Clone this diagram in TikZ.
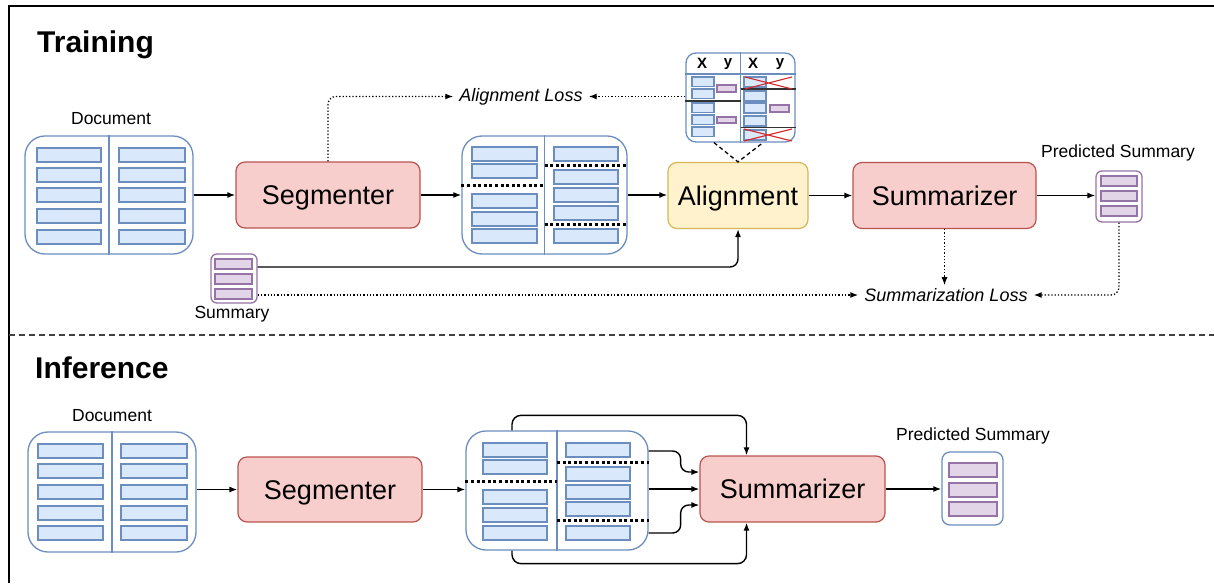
\documentclass[tikz,border=0pt]{standalone}
\usepackage{fontspec}
\setmainfont{Liberation Sans}
\usetikzlibrary{arrows.meta,calc}

\definecolor{redfill}{HTML}{F8CECC}
\definecolor{redline}{HTML}{B85450}
\definecolor{yelfill}{HTML}{FFF2CC}
\definecolor{yelline}{HTML}{D6B656}
\definecolor{bluefill}{HTML}{DAE8FC}
\definecolor{blueline}{HTML}{6C8EBF}
\definecolor{purfill}{HTML}{E1D5E7}
\definecolor{purline}{HTML}{9673A6}
\definecolor{crossred}{HTML}{D42A2A}

\tikzset{
  stage/.style={rounded corners=9pt, line width=1.2pt, inner sep=0pt,
    font=\fontsize{27}{32}\selectfont, minimum height=66pt,
    text height=19.3pt, text depth=0pt},
  redstage/.style={stage, fill=redfill, draw=redline},
  yelstage/.style={stage, fill=yelfill, draw=yelline},
  docbox/.style={draw=blueline, fill=white, line width=1.3pt, rounded corners=20pt, inner sep=0pt},
  sumbox/.style={fill=white, line width=1.3pt, rounded corners=6pt, inner sep=0pt},
  bbar/.style={fill=bluefill, draw=blueline, line width=1.3pt},
  pbar/.style={fill=purfill, draw=purline, line width=1.3pt},
  segline/.style={line width=3pt, dash pattern=on 3pt off 2.6pt},
  arr/.style={line width=1.4pt, -{Latex[length=8pt,width=6pt]}},
  darr/.style={line width=1.3pt, dash pattern=on 1.3pt off 2pt, -{Latex[length=8pt,width=6pt]}},
  lbl/.style={font=\fontsize{17.5}{20}\selectfont, inner sep=0pt},
  loss/.style={font=\fontsize{18}{21}\selectfont\itshape, inner sep=0pt},
  title/.style={font=\fontsize{30}{34}\selectfont\bfseries, inner sep=0pt, anchor=west},
  hdr/.style={font=\fontsize{15}{17}\selectfont\bfseries, inner sep=0pt},
}

\begin{document}
\begin{tikzpicture}[x=1pt, y=-1pt]
\useasboundingbox (0,0) rectangle (1214,583);

% frame and section separator
\draw[line width=2pt] (8.5,583) -- (8.5,6.5) -- (1214,6.5);
\draw[line width=1.5pt, black!75, dash pattern=on 6pt off 4pt] (8.5,335) -- (1214,335);

\node[title] (ttrain) at (37,45) {Training};
\node[title] (tinfer) at (35,368) {Inference};

% ================= Training =================
\node[lbl] (ldoc1) at (111,119) {Document};
\node[docbox, minimum width=168pt, minimum height=118pt] (doc1) at (109,195) {};
\draw[draw=blueline, line width=1.3pt] (doc1.north) -- (doc1.south);
\foreach \y in {148,168,188,209,230} {
  \draw[bbar] (37,\y) rectangle (101,\y+14);
  \draw[bbar] (119,\y) rectangle (185,\y+14);
}

\node[redstage, minimum width=184pt] (seg1) at (328,195) {Segmenter};

\node[docbox, minimum width=165pt, minimum height=118pt] (sd1) at (544.5,195) {};
\draw[draw=blueline, line width=1.3pt] (sd1.north) -- (sd1.south);
\foreach \y in {147,164,194,212,229} \draw[bbar] (472,\y) rectangle (537,\y+14);
\foreach \y in {147,170,188,206,229} \draw[bbar] (554,\y) rectangle (618,\y+14);
\draw[segline] (sd1.west |- 0,185) -- (sd1.center |- 0,185);
\draw[segline] (sd1.center |- 0,165) -- (sd1.east |- 0,165);
\draw[segline] (sd1.center |- 0,224) -- (sd1.east |- 0,224);

\node[yelstage, minimum width=140pt] (al) at (738,195.5) {Alignment};
\node[redstage, minimum width=183pt] (sum1) at (944.5,195.5) {Summarizer};

\node[lbl] (lps1) at (1118,153) {Predicted Summary};
\node[sumbox, draw=purline, minimum width=46pt, minimum height=51pt] (ps1) at (1119,196.5) {};
\foreach \y in {176,191,206} \draw[pbar] (1101,\y) rectangle (1137,\y+10);

\node[sumbox, draw=purline, minimum width=46pt, minimum height=49pt] (sm) at (234,278.5) {};
\foreach \y in {259,274,289} \draw[pbar] (215,\y) rectangle (252,\y+10);
\node[lbl] (lsm) at (232,314) {Summary};

% alignment table
\node[draw=blueline, fill=white, line width=1.3pt, rounded corners=10pt,
      minimum width=109pt, minimum height=89pt, inner sep=0pt] (tab) at (740.5,97.5) {};
\draw[draw=blueline, line width=1.3pt] (tab.north) -- (tab.south);
\draw[draw=blueline, line width=1.3pt] (tab.west |- 0,74) -- (tab.east |- 0,74);
\node[hdr] (hx1) at (702,63) {X};
\node[hdr] (hy1) at (728,64) {y};
\node[hdr] (hx2) at (753,63) {X};
\node[hdr] (hy2) at (780,64) {y};
\foreach \y in {77,89,103,115,127} \draw[bbar] (692,\y) rectangle (714,\y+9.5);
\draw[pbar] (717,85) rectangle (736,92);
\draw[pbar] (717,117) rectangle (736,123);
\draw[line width=1.4pt, black!80] (tab.west |- 0,101) -- (tab.center |- 0,101);
\foreach \y in {77,91,103,116,130} \draw[bbar] (744,\y) rectangle (766,\y+10);
\draw[pbar] (770,105) rectangle (789,112);
\draw[line width=1.4pt, black!80] (tab.center |- 0,89) -- (tab.east |- 0,89);
\draw[line width=1.4pt, black!80] (tab.center |- 0,127.5) -- (tab.east |- 0,127.5);
\draw[crossred, line width=1.1pt] (745,77) -- (792,89) (745,89) -- (792,77);
\draw[crossred, line width=1.1pt] (744,129) -- (792,141) (744,141) -- (792,129);

% losses
\node[loss] (alloss) at (521,96.5) {Alignment Loss};
\node[loss] (sl) at (946,295) {Summarization Loss};

% training connectors
\draw[arr] (doc1.east) -- (seg1.west);
\draw[arr] (seg1.east) -- (sd1.west);
\draw[arr] (sd1.east) -- (al.west |- sd1.east);
\draw[arr] (al.east) -- (sum1.west);
\draw[arr] (sum1.east) -- (ps1.west |- sum1.east);
\draw[arr, rounded corners=8pt] ([yshift=11.5pt]sm.east) -| (al.south);
\draw[darr] (sm.east |- sl.west) -- ([xshift=-6pt]sl.west);
\draw[darr] (sum1.south) -- ([yshift=3pt]sum1.south |- sl.north);
\draw[darr, rounded corners=8pt] (ps1.south) |- ([xshift=6pt]sl.east);
\draw[darr, rounded corners=8pt] (seg1.north) |- ([xshift=-6pt]alloss.west);
\draw[darr] (tab.west |- alloss.east) -- ([xshift=6pt]alloss.east);
\draw[line width=1.3pt, dash pattern=on 4pt off 3pt]
  ([xshift=-26.5pt]tab.south) -- (al.north) -- ([xshift=22.5pt]tab.south);

% ================= Inference =================
\node[lbl] (ldoc2) at (112,416) {Document};
\node[docbox, minimum width=168pt, minimum height=120pt] (doc2) at (112,492) {};
\draw[draw=blueline, line width=1.3pt] (doc2.north) -- (doc2.south);
\foreach \y in {444,464,485,506,526} {
  \draw[bbar] (38,\y) rectangle (103,\y+14);
  \draw[bbar] (121,\y) rectangle (187,\y+14);
}

\node[redstage, minimum width=184pt, minimum height=65pt] (seg2) at (330,489.5) {Segmenter};

\node[docbox, minimum width=182pt, minimum height=119pt] (sd2) at (557,490.5) {};
\draw[draw=blueline, line width=1.3pt] (sd2.north) -- (sd2.south);
\foreach \y in {443,460,490,508,526} \draw[bbar] (483,\y) rectangle (547,\y+14);
\foreach \y in {443,467,485,502,526} \draw[bbar] (566,\y) rectangle (630,\y+14);
\draw[segline] (sd2.west |- 0,481) -- (sd2.center |- 0,481);
\draw[segline] (sd2.center |- 0,462) -- (sd2.east |- 0,462);
\draw[segline] (sd2.center |- 0,520) -- (sd2.east |- 0,520);

\node[redstage, minimum width=185pt] (sum2) at (792.5,489) {Summarizer};

\node[lbl] (lps2) at (973,436) {Predicted Summary};
\node[sumbox, draw=blueline, rounded corners=8pt, minimum width=61pt, minimum height=73pt] (ps2) at (972.5,488.5) {};
\foreach \y in {463,483,502} \draw[pbar] (949,\y) rectangle (997,\y+14);

% inference connectors
\draw[arr] (doc2.east |- seg2.west) -- (seg2.west);
\draw[arr] (seg2.east) -- (sd2.west |- seg2.east);
\draw[arr, rounded corners=9pt] ([xshift=-45pt]sd2.north) -- ++(0,-15) -| ([xshift=-46pt]sum2.north);
\draw[arr, rounded corners=9pt] ([xshift=-45pt]sd2.south) -- ++(0,13) -| ([xshift=-46pt]sum2.south);
\draw[arr, rounded corners=8pt] ([yshift=39.5pt]sd2.east) -- ++(32,0) |- ([yshift=17pt]sum2.west);
\draw[arr] (sd2.east |- sum2.west) -- (sum2.west);
\draw[arr, rounded corners=8pt] ([yshift=-42.5pt]sd2.east) -- ++(32,0) |- ([yshift=-16pt]sum2.west);
\draw[arr] (sum2.east) -- (ps2.west |- sum2.east);
\end{tikzpicture}
\end{document}
